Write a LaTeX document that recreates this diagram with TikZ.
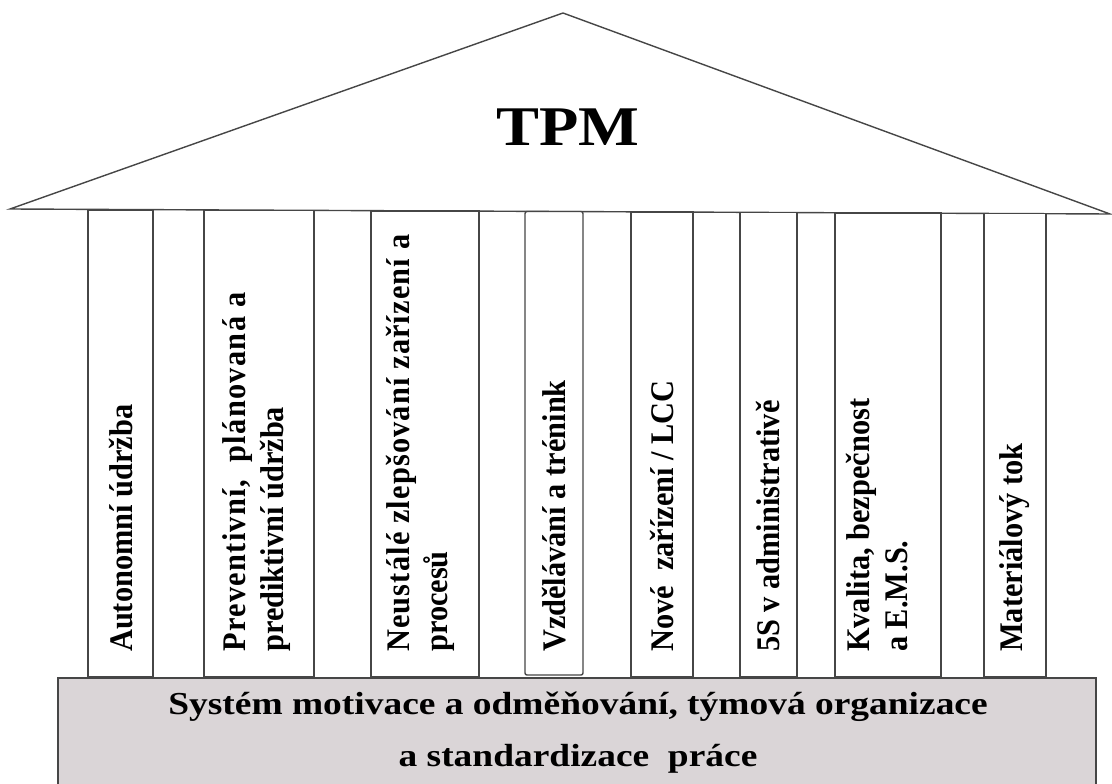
\documentclass[tikz,border=0pt]{standalone}
\usepackage{fontspec}
\setmainfont{Liberation Serif}
\newfontfamily\pillarfont[FakeStretch=0.92]{Liberation Serif}
\newfontfamily\basefont[FakeStretch=1.17]{Liberation Serif}
\newfontfamily\roofont[FakeStretch=1.15]{Liberation Serif}
\newcommand{\spaced}[2]{{\addfontfeature{LetterSpace=#1}#2}}
\definecolor{basegray}{RGB}{218,213,215}
\definecolor{linegray}{RGB}{70,70,70}
\begin{document}
\begin{tikzpicture}[x=1pt,y=-1pt,
  edge/.style={draw=linegray, line width=1.4pt, line join=miter},
  pillar/.style={edge, fill=white},
  pillartext/.style={rotate=90, anchor=west, inner sep=0pt, align=left,
    font=\pillarfont\bfseries\fontsize{33}{38}\selectfont},
  basetext/.style={inner sep=0pt, align=center,
    font=\basefont\bfseries\fontsize{32}{52}\selectfont},
]
\useasboundingbox (0,0) rectangle (1112,784);
\fill[white] (0,0) rectangle (1112,784);

% roof
\draw[edge, fill=white] (10,209) -- (563,13) -- (1110,214) -- cycle;
\node[inner sep=0pt, font=\roofont\bfseries\fontsize{56}{60}\selectfont] (tpm) at (568,127) {TPM};

% pillars
\draw[pillar] (88,210) rectangle (153,677);
\draw[pillar] (204,210.5) rectangle (314,677);
\draw[pillar] (371,211) rectangle (479,677);
\draw[pillar, rounded corners=2pt] (525,211.5) rectangle (583,675);
\draw[pillar] (631,212) rectangle (693,677);
\draw[pillar] (740,212.5) rectangle (797,677);
\draw[pillar] (835,213) rectangle (941,677);
\draw[pillar] (984,213.5) rectangle (1046,677);

% pillar labels
\node[pillartext] (t1) at (121,652) {Autonomní údržba};
\node[pillartext] (t2) at (257,652) {\spaced{4}{Preventivní,~ plánovaná a}\\prediktivní údržba};
\node[pillartext] (t3) at (420,652) {\spaced{3.5}{Neustálé zlepšování zařízení a}\\procesů};
\node[pillartext] (t4) at (554,652) {Vzdělávání a trénink};
\node[pillartext] (t5) at (662,652) {Nové~ zařízení / LCC};
\node[pillartext] (t6) at (768,652) {5S v administrativě};
\node[pillartext] (t7) at (877,652) {Kvalita, bezpečnost\\a E.M.S.};
\node[pillartext] (t8) at (1015,652) {Materiálový tok};

% foundation
\draw[edge, fill=basegray] (58,678) rectangle (1096,790);
\node[basetext] (base) at (578,733) {Systém motivace a odměňování, týmová organizace\\a standardizace~ práce};
\end{tikzpicture}
\end{document}
